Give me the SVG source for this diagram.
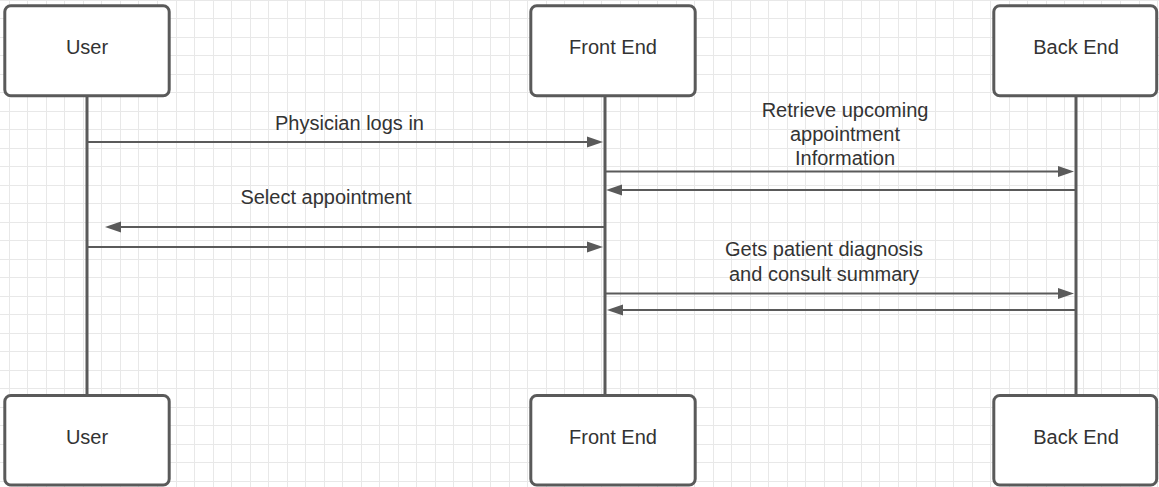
<svg xmlns="http://www.w3.org/2000/svg" width="1159" height="487" viewBox="0 0 1159 487">
  <style>
    .grid { stroke: #e8e8e8; stroke-width: 1; fill: none; shape-rendering: crispEdges; }
    .box { fill: #ffffff; stroke: #5a5a5a; stroke-width: 3; }
    .life { stroke: #5a5a5a; stroke-width: 3; fill: none; }
    .msg { stroke: #5a5a5a; stroke-width: 2.2; fill: none; marker-end: url(#head); }
    text { font-family: "Liberation Sans", Arial, sans-serif; font-size: 20px; fill: #333333; text-anchor: middle; }
  </style>
  <defs>
    <marker id="head" markerUnits="userSpaceOnUse" markerWidth="16" markerHeight="11" refX="6" refY="5.5" orient="auto" overflow="visible">
      <path d="M0,0 L16,5.5 L0,11 Z" fill="#5a5a5a"/>
    </marker>
  </defs>

  <!-- background grid -->
  <rect x="0" y="0" width="1159" height="487" fill="#ffffff"/>
  <path class="grid" d="
    M9.5,0 V487 M27.5,0 V487 M46.5,0 V487 M64.5,0 V487 M83.5,0 V487 M101.5,0 V487 M120.5,0 V487 M138.5,0 V487
    M157.5,0 V487 M176.5,0 V487 M194.5,0 V487 M213.5,0 V487 M231.5,0 V487 M250.5,0 V487 M268.5,0 V487 M287.5,0 V487
    M305.5,0 V487 M324.5,0 V487 M342.5,0 V487 M361.5,0 V487 M379.5,0 V487 M398.5,0 V487 M416.5,0 V487 M435.5,0 V487
    M453.5,0 V487 M472.5,0 V487 M490.5,0 V487 M509.5,0 V487 M527.5,0 V487 M546.5,0 V487 M564.5,0 V487 M583.5,0 V487
    M601.5,0 V487 M620.5,0 V487 M638.5,0 V487 M657.5,0 V487 M676.5,0 V487 M694.5,0 V487 M713.5,0 V487 M731.5,0 V487
    M750.5,0 V487 M768.5,0 V487 M787.5,0 V487 M805.5,0 V487 M824.5,0 V487 M842.5,0 V487 M861.5,0 V487 M879.5,0 V487
    M898.5,0 V487 M916.5,0 V487 M935.5,0 V487 M953.5,0 V487 M972.5,0 V487 M990.5,0 V487 M1009.5,0 V487 M1027.5,0 V487
    M1046.5,0 V487 M1064.5,0 V487 M1083.5,0 V487 M1101.5,0 V487 M1120.5,0 V487 M1139.5,0 V487 M1157.5,0 V487
    M0,0.5 H1159 M0,18.5 H1159 M0,37.5 H1159 M0,55.5 H1159 M0,74.5 H1159 M0,92.5 H1159 M0,111.5 H1159 M0,129.5 H1159
    M0,148.5 H1159 M0,166.5 H1159 M0,185.5 H1159 M0,203.5 H1159 M0,222.5 H1159 M0,240.5 H1159 M0,259.5 H1159 M0,277.5 H1159
    M0,296.5 H1159 M0,314.5 H1159 M0,333.5 H1159 M0,351.5 H1159 M0,370.5 H1159 M0,388.5 H1159 M0,407.5 H1159 M0,425.5 H1159
    M0,444.5 H1159 M0,462.5 H1159 M0,481.5 H1159"/>

  <!-- lifelines -->
  <g id="lifelines">
    <line class="life" x1="87" y1="97" x2="87" y2="395"/>
    <line class="life" x1="605" y1="97" x2="605" y2="395"/>
    <line class="life" x1="1076" y1="97" x2="1076" y2="395"/>
  </g>

  <!-- participants, top -->
  <g id="user-top">
    <rect class="box" x="4.8" y="5.8" width="164.4" height="90" rx="6"/>
    <text x="87" y="54">User</text>
  </g>
  <g id="frontend-top">
    <rect class="box" x="530.8" y="5.8" width="164.4" height="90" rx="6"/>
    <text x="613" y="54">Front End</text>
  </g>
  <g id="backend-top">
    <rect class="box" x="993.8" y="5.8" width="162.9" height="90" rx="6"/>
    <text x="1076" y="54">Back End</text>
  </g>

  <!-- participants, bottom -->
  <g id="user-bottom">
    <rect class="box" x="4.8" y="395.5" width="164.4" height="89.5" rx="6"/>
    <text x="87" y="443.5">User</text>
  </g>
  <g id="frontend-bottom">
    <rect class="box" x="530.8" y="395.5" width="164.4" height="89.5" rx="6"/>
    <text x="613" y="443.5">Front End</text>
  </g>
  <g id="backend-bottom">
    <rect class="box" x="993.8" y="395.5" width="162.9" height="89.5" rx="6"/>
    <text x="1076" y="443.5">Back End</text>
  </g>

  <!-- messages -->
  <g id="connectors">
    <line class="msg" x1="87" y1="142" x2="593" y2="142"/>
    <line class="msg" x1="605" y1="171.5" x2="1064" y2="171.5"/>
    <line class="msg" x1="1076" y1="190" x2="616" y2="190"/>
    <line class="msg" x1="605" y1="227" x2="115" y2="227"/>
    <line class="msg" x1="87" y1="247" x2="593" y2="247"/>
    <line class="msg" x1="605" y1="293.5" x2="1064" y2="293.5"/>
    <line class="msg" x1="1076" y1="310" x2="617" y2="310"/>
  </g>

  <!-- message labels -->
  <g id="labels">
    <text x="349.5" y="130">Physician logs in</text>
    <text x="845" y="117">Retrieve upcoming</text>
    <text x="845" y="141">appointment</text>
    <text x="845" y="165">Information</text>
    <text x="326" y="204">Select appointment</text>
    <text x="824" y="256">Gets patient diagnosis</text>
    <text x="824" y="280.5">and consult summary</text>
  </g>
</svg>
